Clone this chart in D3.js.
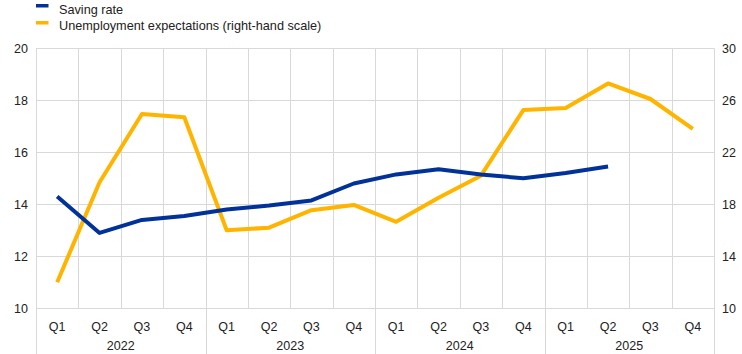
<!DOCTYPE html>
<html lang="en">
<head>
<meta charset="utf-8">
<title>Saving rate and unemployment expectations</title>
<script src="https://cdn.jsdelivr.net/npm/d3@7"></script>
<style>
  body { margin: 0; background: #fff; }
  text { font-family: Arial, "Liberation Sans", sans-serif; fill: #222; }
</style>
</head>
<body>
<div id="chart"></div>
<script>
    // quarters Q1 2022 .. Q4 2025
    var years = ["2022", "2023", "2024", "2025"];
    var quarters = ["Q1", "Q2", "Q3", "Q4"];
    var savingRate = [14.3, 12.9, 13.4, 13.55, 13.8, 13.95, 14.15, 14.8, 15.15, 15.35, 15.15, 15.0, 15.2, 15.45];
    var unempExp = [12.0, 19.7, 24.95, 24.7, 16.0, 16.2, 17.55, 17.95, 16.65, 18.5, 20.2, 25.25, 25.4, 27.3, 26.1, 23.8];
    var leftTicks = [10, 12, 14, 16, 18, 20];
    var rightTicks = [10, 14, 18, 22, 26, 30];

    var w = 742, h = 354;
    var plotLeft = 36, plotRight = 714, plotTop = 48.3, plotBottom = 308.3;
    var fs = 12.5;

    var periods = [];
    years.forEach(function(y) {
        quarters.forEach(function(q) { periods.push(q + " " + y); });
    });

    var x = d3.scaleBand().domain(periods).range([plotLeft, plotRight]).padding(0);
    var yL = d3.scaleLinear().domain([10, 20]).range([plotBottom, plotTop]);
    var yR = d3.scaleLinear().domain([10, 30]).range([plotBottom, plotTop]);

    var svg = d3.select("#chart").append("svg")
        .attr("width", w)
        .attr("height", h);

    // horizontal grid
    svg.append("g").selectAll("line")
        .data(leftTicks)
        .enter().append("line")
        .attr("x1", plotLeft).attr("x2", plotRight)
        .attr("y1", function(d) { return Math.round(yL(d)) + 0.5; })
        .attr("y2", function(d) { return Math.round(yL(d)) + 0.5; })
        .attr("stroke", "#d9d9d9").attr("stroke-width", 1);

    // vertical grid at band edges, year edges run down past the labels
    var edges = periods.map(function(p) { return x(p); }).concat([plotRight]);
    svg.append("g").selectAll("line")
        .data(edges)
        .enter().append("line")
        .attr("x1", function(d) { return Math.round(d) + 0.5; })
        .attr("x2", function(d) { return Math.round(d) + 0.5; })
        .attr("y1", plotTop)
        .attr("y2", function(d, i) { return i % 4 === 0 ? h : plotBottom; })
        .attr("stroke", "#d9d9d9").attr("stroke-width", 1);

    // left axis labels
    svg.append("g").selectAll("text")
        .data(leftTicks)
        .enter().append("text")
        .attr("x", 28)
        .attr("y", function(d) { return yL(d); })
        .attr("dy", "0.35em")
        .attr("text-anchor", "end")
        .attr("font-size", fs)
        .text(function(d) { return d; });

    // right axis labels
    svg.append("g").selectAll("text")
        .data(rightTicks)
        .enter().append("text")
        .attr("x", 722)
        .attr("y", function(d) { return yR(d); })
        .attr("dy", "0.35em")
        .attr("text-anchor", "start")
        .attr("font-size", fs)
        .text(function(d) { return d; });

    // quarter labels
    svg.append("g").selectAll("text")
        .data(periods)
        .enter().append("text")
        .attr("x", function(d) { return x(d) + x.bandwidth() / 2; })
        .attr("y", 331)
        .attr("text-anchor", "middle")
        .attr("font-size", fs)
        .text(function(d) { return d.split(" ")[0]; });

    // year labels
    svg.append("g").selectAll("text")
        .data(years)
        .enter().append("text")
        .attr("x", function(d) { return x("Q1 " + d) + x.bandwidth() * 2; })
        .attr("y", 350)
        .attr("text-anchor", "middle")
        .attr("font-size", fs)
        .text(function(d) { return d; });

    var cx = function(d, i) { return x(periods[i]) + x.bandwidth() / 2; };

    svg.append("path")
        .datum(unempExp)
        .attr("fill", "none")
        .attr("stroke", "#ffb400")
        .attr("stroke-width", 4)
        .attr("stroke-linejoin", "round")
        .attr("d", d3.line().x(cx).y(function(d) { return yR(d); }));

    svg.append("path")
        .datum(savingRate)
        .attr("fill", "none")
        .attr("stroke", "#003299")
        .attr("stroke-width", 4)
        .attr("stroke-linejoin", "round")
        .attr("d", d3.line().x(cx).y(function(d) { return yL(d); }));

    // legend
    var legend = [
        { label: "Saving rate", color: "#003299" },
        { label: "Unemployment expectations (right-hand scale)", color: "#ffb400" }
    ];
    var lg = svg.append("g").selectAll("g")
        .data(legend)
        .enter().append("g")
        .attr("transform", function(d, i) { return "translate(36," + (4 + i * 17) + ")"; });
    lg.append("rect")
        .attr("width", 12.5).attr("height", 3.5)
        .attr("fill", function(d) { return d.color; });
    lg.append("text")
        .attr("x", 23).attr("y", function(d, i) { return i === 0 ? 10 : 8.5; })
        .attr("font-size", 12.7)
        .text(function(d) { return d.label; });
</script>
</body>
</html>
